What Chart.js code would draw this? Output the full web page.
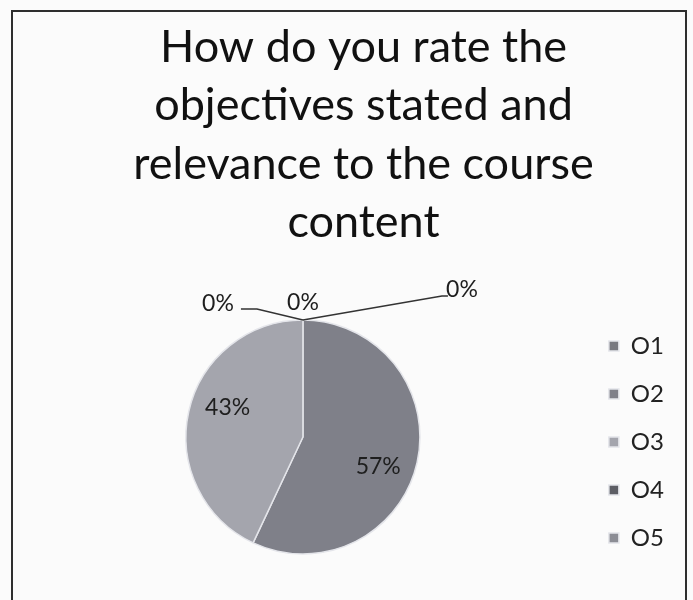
<!DOCTYPE html>
<html>
<head>
<meta charset="utf-8">
<script src="https://cdn.jsdelivr.net/npm/chart.js@4"></script>
<style>
  html, body { margin: 0; padding: 0; background: #fbfbfb; }
</style>
</head>
<body>
<canvas id="pieChart" width="693" height="600"></canvas>
<script>
var categories = ['O1', 'O2', 'O3', 'O4', 'O5'];
var responses = [0, 57, 43, 0, 0];
var title_lines = ['How do you rate the', 'objectives stated and', 'relevance to the course', 'content'];

var slice_colors = ['#77787f', '#7f8089', '#a4a5ad', '#5d5e65', '#8c8d95'];

// where the 0% labels sit, relative to the point where the empty slice touches the rim
var zero_label_spots = {
    0: { dx: 0, dy: -17, line: [] },
    3: { dx: -85, dy: -16, line: [[-62, -11], [-46, -11], [0, 0]] },
    4: { dx: 159, dy: -30, line: [[0, 0], [139, -24], [145, -24]] }
};

var FONT = 'Lato, "Open Sans", sans-serif';

const frameAndLabels = {
    id: 'frameAndLabels',
    afterLayout(chart) {
        // the title in the original sits a little right of the page centre
        chart.titleBlock.left += 16;
        chart.titleBlock.right += 16;
    },
    beforeDraw(chart) {
        const ctx = chart.ctx;
        ctx.save();
        ctx.fillStyle = '#fbfbfb';
        ctx.fillRect(0, 0, chart.width, chart.height);
        ctx.strokeStyle = '#2e2e2e';
        ctx.lineWidth = 2;
        ctx.beginPath();
        ctx.moveTo(12, 620);
        ctx.lineTo(12, 11);
        ctx.lineTo(686, 11);
        ctx.lineTo(686, 620);
        ctx.stroke();
        ctx.restore();
    },
    afterDatasetsDraw(chart) {
        const ctx = chart.ctx;
        const meta = chart.getDatasetMeta(0);
        const total = responses.reduce((a, b) => a + b, 0);

        ctx.save();
        ctx.font = '23px ' + FONT;
        ctx.fillStyle = '#1e1e1e';
        ctx.textAlign = 'center';
        ctx.textBaseline = 'middle';

        meta.data.forEach((arc, i) => {
            const p = arc.getProps(['x', 'y', 'startAngle', 'endAngle', 'outerRadius'], true);
            const txt = Math.round(responses[i] / total * 100) + '%';

            if (responses[i] > 0) {
                const mid = (p.startAngle + p.endAngle) / 2 + 0.15;
                const r = p.outerRadius * 0.69;
                ctx.fillText(txt, p.x + Math.cos(mid) * r, p.y + Math.sin(mid) * r);
            } else {
                const ax = p.x + Math.cos(p.startAngle) * p.outerRadius;
                const ay = p.y + Math.sin(p.startAngle) * p.outerRadius;
                const spot = zero_label_spots[i];
                if (spot.line.length) {
                    ctx.strokeStyle = '#333';
                    ctx.lineWidth = 1.5;
                    ctx.beginPath();
                    spot.line.forEach((pt, k) => {
                        if (k === 0) ctx.moveTo(ax + pt[0], ay + pt[1]);
                        else ctx.lineTo(ax + pt[0], ay + pt[1]);
                    });
                    ctx.stroke();
                }
                ctx.fillText(txt, ax + spot.dx, ay + spot.dy);
            }
        });
        ctx.restore();
    }
};

new Chart(document.getElementById('pieChart').getContext('2d'), {
    type: 'pie',
    data: {
        labels: categories,
        datasets: [{
            data: responses,
            backgroundColor: slice_colors,
            borderColor: '#e4e5ea',
            borderWidth: 1.5,
            radius: 117
        }]
    },
    options: {
        responsive: false,
        animation: false,
        layout: {
            padding: { left: 21, right: 19, bottom: 10 }
        },
        plugins: {
            title: {
                display: true,
                text: title_lines,
                color: '#111',
                font: { family: FONT, size: 45, weight: 'normal', lineHeight: 1.3 },
                padding: { top: 18, bottom: 32 }
            },
            legend: {
                position: 'right',
                align: 'start',
                title: {
                    display: true,
                    text: ' ',
                    font: { size: 10, lineHeight: 1 },
                    padding: { top: 300, bottom: 0 }
                },
                labels: {
                    color: '#222',
                    font: { family: FONT, size: 24 },
                    boxWidth: 10,
                    boxHeight: 10,
                    padding: 24
                }
            },
            tooltip: { enabled: false }
        }
    },
    plugins: [frameAndLabels]
});
</script>
</body>
</html>
